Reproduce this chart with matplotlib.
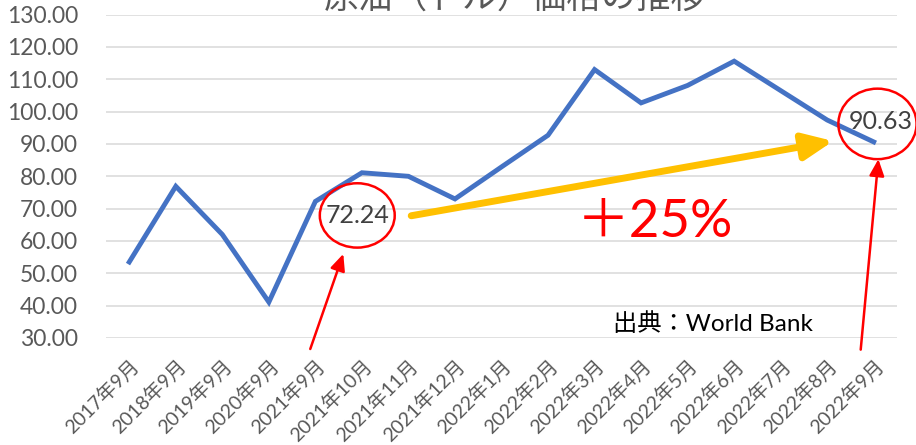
import matplotlib
matplotlib.use("Agg")
import matplotlib.pyplot as plt
from matplotlib.patches import Ellipse

plt.rcParams['font.family'] = ['Lato', 'Noto Sans CJK JP', 'DejaVu Sans']

categories = ["2017年9月", "2018年9月", "2019年9月", "2020年9月", "2021年9月",
              "2021年10月", "2021年11月", "2021年12月", "2022年1月", "2022年2月",
              "2022年3月", "2022年4月", "2022年5月", "2022年6月", "2022年7月",
              "2022年8月", "2022年9月"]
prices = [53.5, 76.9, 62.0, 41.1, 72.24, 81.1, 80.0, 73.0, 82.9, 92.7,
          113.0, 102.7, 108.1, 115.6, 106.5, 97.4, 90.63]
yticks = [30, 40, 50, 60, 70, 80, 90, 100, 110, 120, 130]
title = "原油（ドル）価格の推移"
source = "出典：World Bank"
growth = "＋25%"

W, H = 916, 445
fig = plt.figure(figsize=(W / 100, H / 100), dpi=100)
ax = fig.add_axes([106 / W, 1 - 338 / H, (897 - 106) / W, (338 - 14.6) / H])

x = list(range(len(categories)))
ax.plot(x, prices, color="#4472C4", lw=3.5, solid_joinstyle="miter", zorder=3)

ax.set_xlim(-0.5, len(categories) - 0.5)
ax.set_ylim(30, 130)
ax.set_yticks(yticks)
ax.set_yticklabels([f"{v:.2f}" for v in yticks])
ax.set_xticks(x)
ax.set_xticklabels(categories, rotation=45, ha="right", rotation_mode="anchor")
ax.tick_params(axis="y", length=0, pad=20, labelsize=16.5, labelcolor="#595959")
ax.tick_params(axis="x", length=0, pad=13, labelsize=14, labelcolor="#595959")
for s in ax.spines.values():
    s.set_visible(False)
ax.grid(axis="y", color="#D9D9D9", lw=1.1)
ax.set_axisbelow(True)

# title (partially cut off at top, as in reference)
fig.text(515 / W, 1 - 9 / H, title, ha="center", va="baseline",
         fontsize=25, color="#595959")

# circled values
i0, i1 = 4, 16
ax.add_patch(Ellipse((i0 + 0.9, 67.9), 1.61, 19.9, fill=False, ec="red", lw=1.8,
                     clip_on=False, zorder=5))
ax.text(i0 + 0.9, 68.0, f"{prices[i0]:.2f}", ha="center", va="center",
        fontsize=18, color="#404040", zorder=6)
ax.add_patch(Ellipse((i1 + 0.08, 96.2), 1.68, 21.8, fill=False, ec="red", lw=1.8,
                     clip_on=False, zorder=5))
ax.text(i1 + 0.15, 96.8, f"{prices[i1]:.2f}", ha="center", va="center",
        fontsize=18, color="#404040", zorder=6, clip_on=False)

# red arrows
red_style = "-|>,head_length=1.0,head_width=0.45"
ax.annotate("", xy=(i0 + 0.6, 56.0), xytext=(i0 - 0.11, 26.6),
            arrowprops=dict(arrowstyle=red_style, color="red", lw=1.8,
                            mutation_scale=10, shrinkA=0, shrinkB=0),
            annotation_clip=False)
ax.annotate("", xy=(i1 + 0.1, 85.3), xytext=(i1 - 0.28, 26.4),
            arrowprops=dict(arrowstyle=red_style, color="red", lw=1.8,
                            mutation_scale=10, shrinkA=0, shrinkB=0),
            annotation_clip=False)

# yellow growth arrow
ax.annotate("", xy=(15.13, 90.9), xytext=(6.06, 67.8),
            arrowprops=dict(arrowstyle="-|>,head_length=0.9,head_width=0.4",
                            color="#FFC000", lw=5, mutation_scale=20,
                            shrinkA=0, shrinkB=0),
            zorder=4)

ax.text(11.3, 65.7, growth, ha="center", va="center", fontsize=38, color="red")
ax.text(10.4, 34.6, source, ha="left", va="center", fontsize=17.5, color="black")

fig.savefig("out.png", dpi=100)
